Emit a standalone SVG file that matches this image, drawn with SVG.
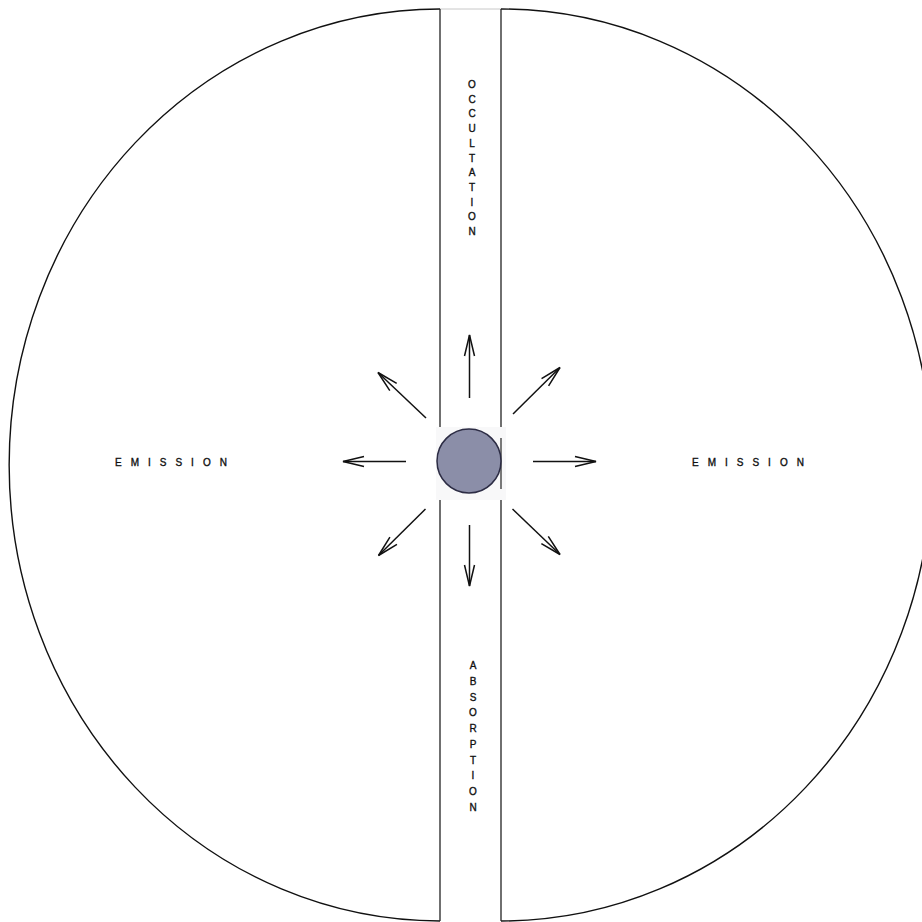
<svg xmlns="http://www.w3.org/2000/svg" width="922" height="922" viewBox="0 0 922 922">
<defs>
<style>
.outline{fill:none;stroke:#111;stroke-width:1.4}
.strip{fill:none;stroke:#222;stroke-width:1.3}
.arrow{fill:none;stroke:#111;stroke-width:1.5;marker-end:url(#head)}
.lbl{font-family:"Liberation Sans",Arial,sans-serif;font-size:10px;fill:#111;stroke:#111;stroke-width:0.35;letter-spacing:9px}
.vlbl{font-family:"Liberation Sans",Arial,sans-serif;font-size:10px;fill:#111;stroke:#111;stroke-width:0.35;text-anchor:middle}
</style>
<marker id="head" markerUnits="userSpaceOnUse" markerWidth="30" markerHeight="16" refX="0" refY="0" viewBox="-24 -8 26 16" orient="auto">
<path d="M-21,-5 L0,0 L-21,5" fill="none" stroke="#111" stroke-width="1.5"/>
</marker>
</defs>
<rect width="922" height="922" fill="#fff"/>
<g id="disk-halves">
<path class="outline" d="M440,9 A431,456 0 0 0 440,921"/>
<path class="outline" d="M501,9 A431,456 0 0 1 501,921"/>
<line x1="440" y1="9" x2="501" y2="9" stroke="#c8c8c8" stroke-width="1"/>
</g>
<g id="strip">
<line class="strip" x1="440" y1="9" x2="440" y2="921"/>
<line class="strip" x1="501" y1="9" x2="501" y2="921"/>
</g>
<g id="star">
<rect x="436" y="427" width="70" height="73" fill="#f8f8f9"/>
<line x1="501" y1="438" x2="501" y2="489" stroke="#333" stroke-width="1.3"/>
<circle cx="469" cy="461" r="32" fill="#8b8ea8" stroke="#2c2c44" stroke-width="1.5"/>
</g>
<g id="connectors">
<line class="arrow" x1="469.5" y1="398" x2="469.5" y2="335"/>
<line class="arrow" x1="469.5" y1="525" x2="469.5" y2="586"/>
<line class="arrow" x1="406" y1="461.5" x2="343" y2="461.5"/>
<line class="arrow" x1="533" y1="461.5" x2="596" y2="461.5"/>
<line class="arrow" x1="426" y1="418" x2="378" y2="372.5"/>
<line class="arrow" x1="513" y1="414" x2="560" y2="367.5"/>
<line class="arrow" x1="425.5" y1="509" x2="378.5" y2="555.5"/>
<line class="arrow" x1="512.5" y1="509" x2="560" y2="554.5"/>
</g>
<g id="label-emission-left"><text class="lbl" x="115" y="465.5">EMISSION</text></g>
<g id="label-emission-right"><text class="lbl" x="692" y="465.5">EMISSION</text></g>
<g id="label-occultation">
<text class="vlbl" x="472" y="88">O</text>
<text class="vlbl" x="472" y="102.7">C</text>
<text class="vlbl" x="472" y="117.4">C</text>
<text class="vlbl" x="472" y="132.1">U</text>
<text class="vlbl" x="472" y="146.8">L</text>
<text class="vlbl" x="472" y="161.5">T</text>
<text class="vlbl" x="472" y="176.2">A</text>
<text class="vlbl" x="472" y="190.9">T</text>
<text class="vlbl" x="472" y="205.6">I</text>
<text class="vlbl" x="472" y="220.3">O</text>
<text class="vlbl" x="472" y="235">N</text>
</g>
<g id="label-absorption">
<text class="vlbl" x="473" y="669">A</text>
<text class="vlbl" x="473" y="684.8">B</text>
<text class="vlbl" x="473" y="700.5">S</text>
<text class="vlbl" x="473" y="716.3">O</text>
<text class="vlbl" x="473" y="732">R</text>
<text class="vlbl" x="473" y="747.8">P</text>
<text class="vlbl" x="473" y="763.5">T</text>
<text class="vlbl" x="473" y="779.3">I</text>
<text class="vlbl" x="473" y="795">O</text>
<text class="vlbl" x="473" y="811">N</text>
</g>
</svg>
